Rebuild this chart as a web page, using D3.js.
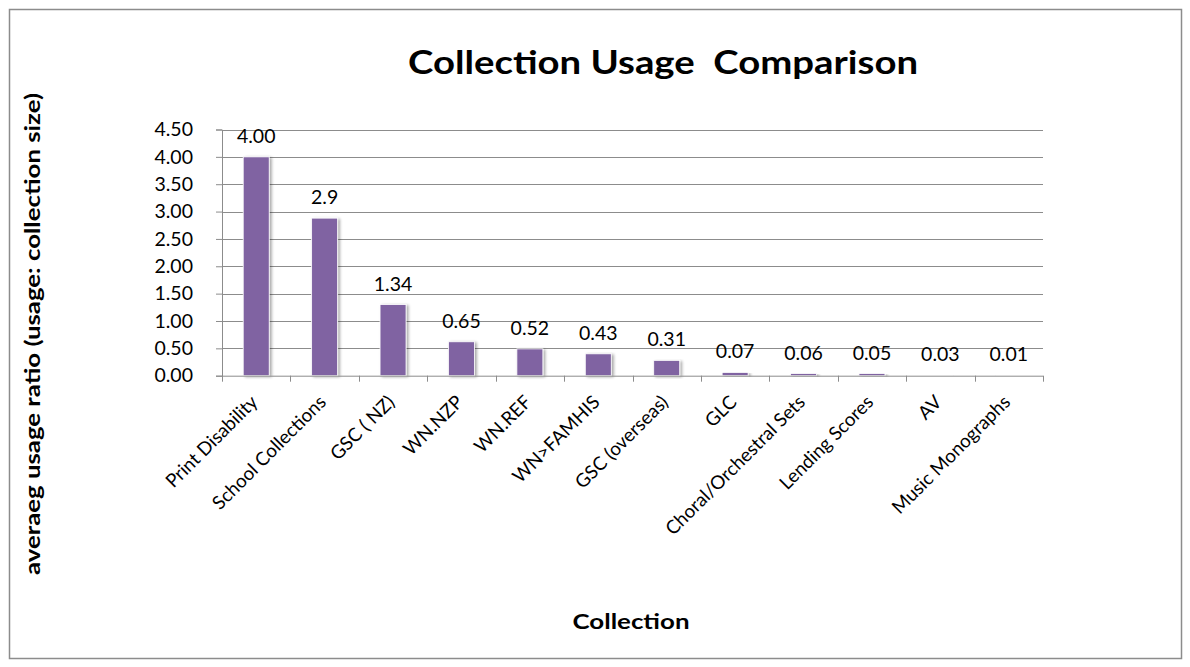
<!DOCTYPE html>
<html><head><meta charset="utf-8">
<script src="https://cdn.jsdelivr.net/npm/d3@7"></script>
<style>body{margin:0;background:#fff}svg{display:block}text{font-family:Lato,"Open Sans",sans-serif;fill:#000}</style>
</head><body><svg id="c" width="1190" height="667"></svg>
<script>
const categories = ["Print Disability","School Collections","GSC ( NZ)","WN.NZP","WN.REF","WN>FAMHIS","GSC (overseas)","GLC","Choral/Orchestral Sets","Lending Scores","AV","Music Monographs"];
const values = [4.00, 2.88, 1.30, 0.62, 0.49, 0.40, 0.28, 0.06, 0.04, 0.04, 0.01, 0.01];
const valueLabels = ["4.00","2.9","1.34","0.65","0.52","0.43","0.31","0.07","0.06","0.05","0.03","0.01"];
const yTicks = [0,0.5,1,1.5,2,2.5,3,3.5,4,4.5];

const svg = d3.select("#c");
svg.append("rect").attr("x",9.5).attr("y",9.5).attr("width",1172).attr("height",649)
  .attr("fill","#fff").attr("stroke","#8c8c8c").attr("stroke-width",1.5);

const L=222, R=1043, T=129.5, B=375.7;
const x = d3.scaleBand().domain(categories).range([L,R]).paddingInner(0.62).paddingOuter(0.31);
const xb = d3.scaleBand().domain(categories).range([L,R]);
const y = d3.scaleLinear().domain([0,4.5]).range([B,T]);

const defs = svg.append("defs");
const f = defs.append("filter").attr("id","sh").attr("x","-30%").attr("y","-10%").attr("width","160%").attr("height","130%");
f.append("feGaussianBlur").attr("in","SourceAlpha").attr("stdDeviation",1.5);
f.append("feOffset").attr("dx",1.5).attr("dy",1).attr("result","b");
f.append("feComponentTransfer").append("feFuncA").attr("type","linear").attr("slope",0.35);
const m = f.append("feMerge"); m.append("feMergeNode"); m.append("feMergeNode").attr("in","SourceGraphic");

// gridlines
svg.append("g").selectAll("line").data(yTicks.slice(1)).join("line")
  .attr("x1",L).attr("x2",R).attr("y1",d=>Math.round(y(d))+0.5).attr("y2",d=>Math.round(y(d))+0.5)
  .attr("stroke","#8c8c8c").attr("stroke-width",1);

// y axis
const ya = svg.append("g").attr("transform",`translate(${L},0)`)
  .call(d3.axisLeft(y).tickValues(yTicks).tickFormat(d3.format(".2f")).tickSize(6).tickPadding(23));
ya.select(".domain").attr("stroke","#8c8c8c");
ya.selectAll(".tick line").attr("stroke","#8c8c8c");
ya.selectAll("text").attr("font-size",19.5).style("font-family",'Lato,sans-serif').attr("fill","#000");

// bars
svg.append("g").selectAll("rect").data(values).join("rect")
  .attr("x",(d,i)=>x(categories[i])).attr("width",x.bandwidth())
  .attr("y",d=>y(d)).attr("height",d=>B-y(d))
  .attr("fill","#8064a2").attr("stroke","#fff").attr("stroke-width",0.8).attr("filter","url(#sh)");

// x axis
const xa = svg.append("g").attr("transform",`translate(0,${B})`);
xa.append("line").attr("x1",L).attr("x2",R).attr("y1",0.5).attr("y2",0.5).attr("stroke","#8c8c8c");
xa.selectAll("line.t").data(d3.range(categories.length+1)).join("line").attr("class","t")
  .attr("x1",i=>Math.round(L+i*xb.step())+0.5).attr("x2",i=>Math.round(L+i*xb.step())+0.5)
  .attr("y1",0).attr("y2",6).attr("stroke","#8c8c8c");

// category labels
svg.append("g").selectAll("text").data(categories).join("text")
  .attr("transform",d=>`translate(${xb(d)+xb.bandwidth()/2-2},${B+23}) rotate(-45)`)
  .attr("text-anchor","end").attr("font-size",18.8).attr("dy","0.35em").text(d=>d);

// value labels
svg.append("g").selectAll("text").data(values).join("text")
  .attr("x",(d,i)=>x(categories[i])+x.bandwidth()/2).attr("y",d=>y(d)-14)
  .attr("text-anchor","middle").attr("font-size",19.5).text((d,i)=>valueLabels[i]);

// titles
svg.append("text").attr("x",663).attr("y",74).attr("text-anchor","middle")
  .attr("font-size",33).attr("font-weight","bold").attr("xml:space","preserve")
  .attr("textLength",510).attr("lengthAdjust","spacingAndGlyphs").text("Collection Usage  Comparison");
svg.append("text").attr("x",631).attr("y",629).attr("text-anchor","middle")
  .attr("font-size",21).attr("font-weight","bold").attr("textLength",117).attr("lengthAdjust","spacingAndGlyphs").text("Collection");
svg.append("text").attr("transform","translate(40,334) rotate(-90)").attr("text-anchor","middle")
  .attr("font-size",20).attr("font-weight","bold").attr("textLength",482).attr("lengthAdjust","spacingAndGlyphs")
  .text("averaeg usage ratio (usage: collection size)");
</script></body></html>
